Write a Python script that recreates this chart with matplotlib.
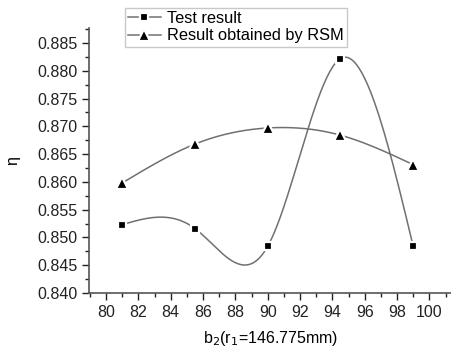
import numpy as np
import matplotlib.pyplot as plt
from matplotlib.ticker import MultipleLocator

plt.rcParams['font.family'] = ['Liberation Sans', 'DejaVu Sans']

# data
b2 = [81, 85.5, 90, 94.5, 99]
test_result = [0.8523, 0.8516, 0.8484, 0.8822, 0.8484]
rsm_result = [0.8598, 0.8668, 0.8697, 0.8684, 0.8631]


def spline(x, y, n=200):
    # natural cubic spline, only used to draw the smooth connecting line
    x = np.asarray(x, float)
    y = np.asarray(y, float)
    m = len(x)
    h = np.diff(x)
    A = np.zeros((m, m))
    r = np.zeros(m)
    A[0, 0] = A[-1, -1] = 1
    for i in range(1, m - 1):
        A[i, i - 1] = h[i - 1]
        A[i, i] = 2 * (h[i - 1] + h[i])
        A[i, i + 1] = h[i]
        r[i] = 6 * ((y[i + 1] - y[i]) / h[i] - (y[i] - y[i - 1]) / h[i - 1])
    M = np.linalg.solve(A, r)
    xs = np.linspace(x[0], x[-1], n)
    k = np.clip(np.searchsorted(x, xs) - 1, 0, m - 2)
    t0 = x[k + 1] - xs
    t1 = xs - x[k]
    hk = h[k]
    ys = (M[k] * t0**3 + M[k + 1] * t1**3) / (6 * hk) \
        + (y[k] / hk - M[k] * hk / 6) * t0 + (y[k + 1] / hk - M[k + 1] * hk / 6) * t1
    return xs, ys


fig = plt.figure(figsize=(4.52, 3.5), dpi=100)
ax = fig.add_axes([0.197, 0.163, 0.803, 0.757])

line_col = '#707070'
xs, ys = spline(b2, test_result)
ax.plot(xs, ys, color=line_col, lw=1.1, zorder=1)
ax.plot(b2, test_result, ls='none', marker='s', ms=5.8, mfc='black', mec='white', mew=1.6, zorder=3)
xs, ys = spline(b2, rsm_result)
ax.plot(xs, ys, color=line_col, lw=1.1, zorder=1)
ax.plot(b2, rsm_result, ls='none', marker='^', ms=8.5, mfc='black', mec='white', mew=1.6, zorder=3)

# legend handles
h1, = ax.plot([], [], color=line_col, lw=1.1, marker='s', ms=5.8, mfc='black', mec='white', mew=1.6)
h2, = ax.plot([], [], color=line_col, lw=1.1, marker='^', ms=8, mfc='black', mec='white', mew=1.6)
leg = fig.legend([h1, h2], ['Test result', 'Result obtained by RSM'],
                 loc='upper left', bbox_to_anchor=(0.276, 0.978),
                 fontsize=11.8, frameon=True, fancybox=False, handlelength=2.0,
                 handletextpad=0.35, borderpad=0.2, labelspacing=0.15, borderaxespad=0)
leg.get_frame().set_edgecolor('#bbbbbb')
leg.get_frame().set_linewidth(1.0)

ax.set_xlim(78.95, 101.4)
ax.set_ylim(0.840, 0.8877)
ax.xaxis.set_major_locator(MultipleLocator(2))
ax.xaxis.set_minor_locator(MultipleLocator(1))
ax.yaxis.set_major_locator(MultipleLocator(0.005))
ax.yaxis.set_minor_locator(MultipleLocator(0.0025))
ax.yaxis.set_major_formatter(plt.FormatStrFormatter('%.3f'))
ax.tick_params(which='major', direction='out', length=5, width=1, labelsize=11.5, colors='#222222')
ax.tick_params(which='minor', direction='out', length=3, width=1, colors='#222222')

for s in ['top', 'right']:
    ax.spines[s].set_visible(False)
for s in ['left', 'bottom']:
    ax.spines[s].set_color('#555555')
    ax.spines[s].set_linewidth(1.2)

ax.set_xlabel('b$_2$(r$_1$=146.775mm)', fontsize=11.5, labelpad=7)
ax.set_ylabel('η', fontsize=11.5, labelpad=12)

fig.savefig('out.png', dpi=100)
